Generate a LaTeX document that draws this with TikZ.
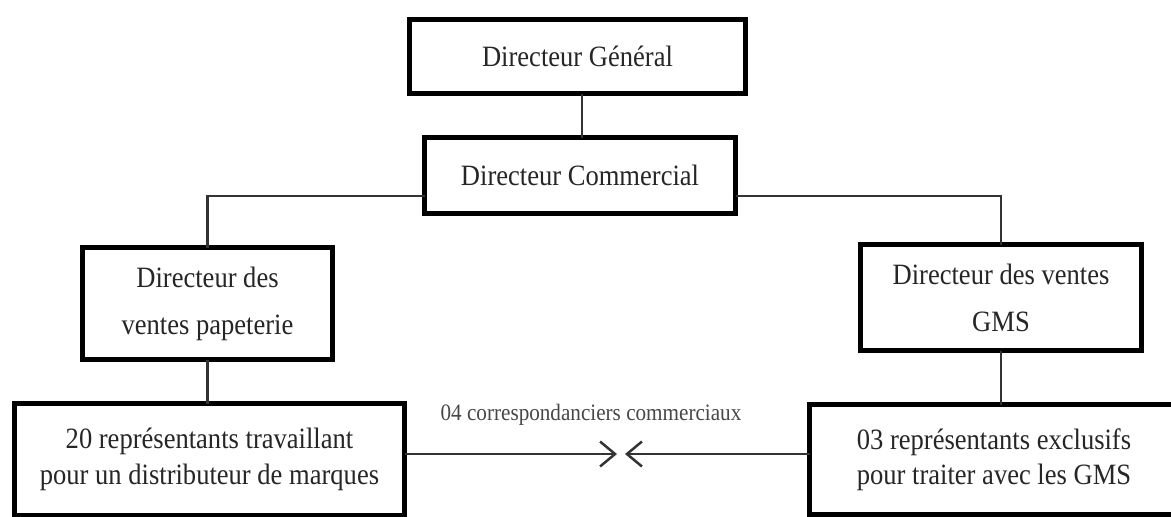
\documentclass[tikz,border=0pt]{standalone}
\usepackage{fontspec}
\usepackage{graphicx}
\setmainfont{Liberation Serif}
\usetikzlibrary{arrows.meta}
% horizontally condensed text line
\newcommand{\sq}[1]{\scalebox{0.9}[1]{#1}}
\begin{document}
\begin{tikzpicture}[x=1pt,y=-1pt,
  orgbox/.style={draw=black, line width=5pt, fill=white, inner sep=0pt, outer sep=0pt,
    align=center, text=black!85, font=\fontsize{29.5}{35.5}\selectfont},
  link/.style={draw=black!80, line width=2.5pt},
  barb/.style={-{Straight Barb[length=15pt,width=25pt,line width=2.5pt]}},
  lbl/.style={text=black!72, font=\fontsize{23.5}{28}\selectfont, inner sep=0pt}]
\useasboundingbox (0,0) rectangle (1171,517);
\clip (0,0) rectangle (1171,517);
\fill[white] (0,0) rectangle (1171,517);

% helper points: branch level and the two arrow tips
\coordinate (hl) at (0,196);
\coordinate (tipL) at (617,454);
\coordinate (tipR) at (625,454);

% boxes
\node[orgbox, minimum width=336, minimum height=74] (dg) at (577.5,56.5) {\sq{Directeur Général}};
\node[orgbox, minimum width=311, minimum height=76] (dc) at (580,175.5) {\sq{Directeur Commercial}};
\node[orgbox, minimum width=250, minimum height=112] (pap) at (207.5,303.5)
  {\sq{Directeur des}\\[11.5pt]\sq{ventes papeterie}};
\node[orgbox, minimum width=281, minimum height=106] (gms) at (1001,297.5)
  {\sq{Directeur des ventes}\\[11.5pt]\sq{GMS}};
\node[orgbox, minimum width=390, minimum height=112] (rep) at (209.5,459.5)
  {\sq{20 représentants travaillant}\\\sq{pour un distributeur de marques}};
\node[orgbox, minimum width=369, minimum height=110] (excl) at (994,459.5)
  {\sq{03 représentants exclusifs}\\\sq{pour traiter avec les GMS}};

% hierarchy connectors
\draw[link] (dc.north -| 582,0) -- (dg.south -| 582,0);
\draw[link] (dc.west |- hl) -| (pap.north);
\draw[link] (dc.east |- hl) -| (gms.north);
\draw[link] (pap.south) -- (pap.south |- rep.north);
\draw[link] (gms.south) -- (gms.south |- excl.north);

% link between the two sales forces
\draw[link, barb] (rep.east |- tipL) -- (tipL);
\draw[link, barb] (excl.west |- tipR) -- (tipR);
\node[lbl] (corr) at (591,415) {\sq{04 correspondanciers commerciaux}};
\end{tikzpicture}
\end{document}
